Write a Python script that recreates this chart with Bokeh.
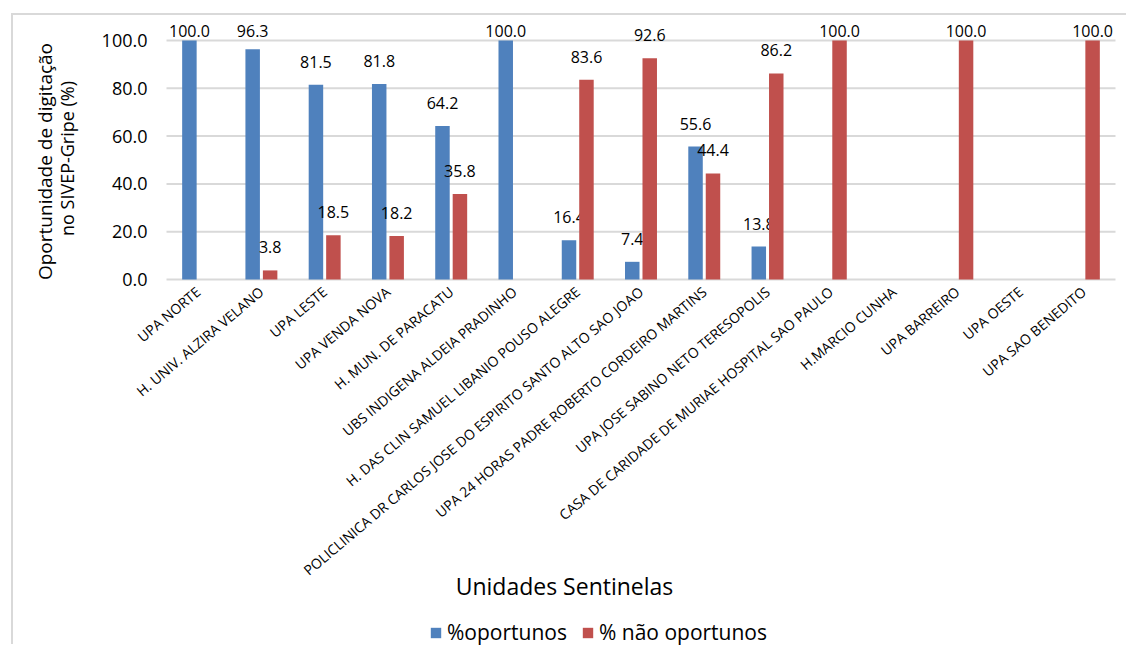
import math
from bokeh.plotting import figure
from bokeh.models import (ColumnDataSource, Range1d, FixedTicker, NumeralTickFormatter,
                          Legend, LegendItem)
from bokeh.core.properties import value
from bokeh.embed import file_html
from bokeh.resources import INLINE

# ---- data -------------------------------------------------------------
unidades = [
    "UPA NORTE",
    "H. UNIV. ALZIRA VELANO",
    "UPA LESTE",
    "UPA VENDA NOVA",
    "H. MUN. DE PARACATU",
    "UBS INDIGENA ALDEIA PRADINHO",
    "H. DAS CLIN SAMUEL LIBANIO POUSO ALEGRE",
    "POLICLINICA DR CARLOS JOSE DO ESPIRITO SANTO ALTO SAO JOAO",
    "UPA 24 HORAS PADRE ROBERTO CORDEIRO MARTINS",
    "UPA JOSE SABINO NETO TERESOPOLIS",
    "CASA DE CARIDADE DE MURIAE HOSPITAL SAO PAULO",
    "H.MARCIO CUNHA",
    "UPA BARREIRO",
    "UPA OESTE",
    "UPA SAO BENEDITO",
]
oportunos = [100.0, 96.3, 81.5, 81.8, 64.2, 100.0, 16.4, 7.4, 55.6, 13.8,
             None, None, None, None, None]
nao_oportunos = [None, 3.8, 18.5, 18.2, 35.8, None, 83.6, 92.6, 44.4, 86.2,
                 100.0, None, 100.0, None, 100.0]
y_ticks = [0, 20, 40, 60, 80, 100]

serie_names = ["%oportunos", "% não oportunos"]
colors = ["#4F81BD", "#C0504D"]

FONT = "Open Sans"

# ---- canvas geometry (pixels) -----------------------------------------
W, H = 1115, 631            # canvas; the whole canvas is the plotting frame
X0, Y0 = 13, 15             # canvas origin inside the window (border + margin)
BAR_LEFT, BAR_RIGHT = 166, 1115   # category band, window pixels
BASE, TOP100 = 279, 40            # y of 0 and of 100, window pixels
n = len(unidades)
PXX = (BAR_RIGHT - BAR_LEFT) / n          # pixels per category
PXY = (BASE - TOP100) / 100               # pixels per percentage point


def wx(px):  # window x pixel -> data x (categories sit at 0..n-1)
    return (px - BAR_LEFT) / PXX - 0.5


def wy(py):  # window y pixel -> data y
    return (BASE - py) / PXY


p = figure(
    x_range=Range1d(wx(X0), wx(X0 + W)), y_range=Range1d(wy(Y0 + H), wy(Y0)),
    width=W, height=H, min_border=0,
    min_border_left=0, min_border_right=0, min_border_top=0, min_border_bottom=0,
    output_backend="svg", toolbar_location=None,
)
p.styles = {"margin-left": "11px", "margin-top": "13px",
            "border-left": "2px solid #d9d9d9", "border-top": "2px solid #d9d9d9"}
p.outline_line_color = None
p.background_fill_color = "white"
p.border_fill_color = "white"
p.grid.visible = False

# horizontal grid lines across the category band
p.segment(x0=[-0.5] * len(y_ticks), x1=[n - 0.5] * len(y_ticks), y0=y_ticks, y1=y_ticks,
          line_color="#d9d9d9", line_width=2)

# y axis, pinned to the left edge of the category band
p.yaxis.fixed_location = -0.5
p.yaxis.ticker = FixedTicker(ticks=y_ticks)
p.yaxis.formatter = NumeralTickFormatter(format="0.0")
p.yaxis.axis_line_color = None
p.yaxis.major_tick_line_color = None
p.yaxis.minor_tick_line_color = None
p.yaxis.major_tick_in = 0
p.yaxis.major_tick_out = 0
p.yaxis.major_label_standoff = 19
p.yaxis.major_label_text_font = FONT
p.yaxis.major_label_text_font_size = "18px"
p.yaxis.major_label_text_color = "black"

# x axis, pinned to 0 with the unit names as labels
p.xaxis.fixed_location = 0
p.xaxis.ticker = FixedTicker(ticks=list(range(n)))
p.xaxis.major_label_overrides = {i: name for i, name in enumerate(unidades)}
p.xaxis.axis_line_color = None
p.xaxis.major_tick_line_color = None
p.xaxis.minor_tick_line_color = None
p.xaxis.major_tick_in = 0
p.xaxis.major_tick_out = 0
p.xaxis.major_label_orientation = 0.7
p.xaxis.major_label_standoff = 10
p.xaxis.major_label_text_font = FONT
p.xaxis.major_label_text_font_size = "14px"
p.xaxis.major_label_text_color = "black"

# bars and value labels
offsets = [-0.138, 0.138]
renderers = []
for vals, name, color, off in zip([oportunos, nao_oportunos], serie_names, colors, offsets):
    xs = [i + off for i, v in enumerate(vals) if v is not None]
    vv = [v for v in vals if v is not None]
    label_y = [min(v + 23 / PXY, wy(30.5)) for v in vv]
    src = ColumnDataSource(dict(x=xs, val=vv, ly=label_y,
                                txt=[f"{v:.1f}" for v in vv]))
    r = p.vbar(x="x", top="val", width=0.229, source=src,
               fill_color=color, line_color=None)
    renderers.append(r)
    p.text(x="x", y="ly", text="txt", source=src,
           text_align="center", text_baseline="middle",
           text_font=value(FONT), text_font_size="16px", text_color="black")

# axis titles
p.text(x=[wx(44)], y=[wy(161)], text=["Oportunidade de digitação"], angle=math.pi / 2,
       text_align="center", text_baseline="middle",
       text_font=value(FONT), text_font_size="19px", text_color="black")
p.text(x=[wx(66)], y=[wy(158)], text=["no SIVEP-Gripe (%)"], angle=math.pi / 2,
       text_align="center", text_baseline="middle",
       text_font=value(FONT), text_font_size="18px", text_color="black")
p.text(x=[wx(564)], y=[wy(585)], text=["Unidades Sentinelas"],
       text_align="center", text_baseline="middle",
       text_font=value(FONT), text_font_size="23px", text_color="black")

# legend
legend = Legend(
    items=[LegendItem(label=nm, renderers=[r]) for nm, r in zip(serie_names, renderers)],
    location=(429 - X0, 0), orientation="horizontal",
    glyph_width=13, glyph_height=13, label_standoff=5, spacing=14,
    padding=0, margin=0, border_line_color=None, background_fill_alpha=0,
    label_text_font=FONT, label_text_font_size="21px", label_text_color="black",
)
p.add_layout(legend, "center")

open("out.html", "w").write(file_html(p, INLINE))
